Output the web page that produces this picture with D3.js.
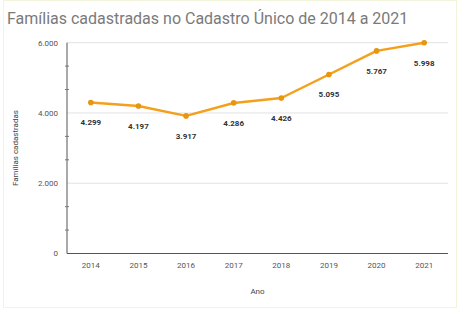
<!DOCTYPE html>
<html>
<head>
  <meta charset="utf-8">
  <style>
    body { margin: 0; background: #fff; font-family: Roboto, Arial, sans-serif; }
    svg text { font-family: Roboto, Arial, sans-serif; }
    .title { fill: #7a7a7a; font-size: 16px; }
    .tick-label { fill: #555; font-size: 8px; }
    .axis-title { fill: #444; font-size: 8px; }
    .value-label { fill: #333; font-size: 8px; font-weight: bold; }
    .grid { stroke: #e2e2e2; stroke-width: 1; }
  </style>
</head>
<body>
  <div id="chart"></div>
  <script src="https://cdn.jsdelivr.net/npm/d3@7"></script>
  <script>
    var anos = ["2014", "2015", "2016", "2017", "2018", "2019", "2020", "2021"];
    var familias = [4299, 4197, 3917, 4286, 4426, 5095, 5767, 5998];
    var yTicks = [0, 2000, 4000, 6000];

    var width = 460, height = 309;
    var plotLeft = 67, plotRight = 448, plotTop = 42.7, plotBottom = 253.5;

    var fmt = function (v) { return d3.format(",")(v).replace(/,/g, "."); };

    var svg = d3.select("#chart").append("svg")
      .attr("width", width)
      .attr("height", height);

    // moldura
    svg.append("rect")
      .attr("x", 3.5).attr("y", 0.5)
      .attr("width", 453).attr("height", 307)
      .attr("fill", "none")
      .attr("stroke", "#f1f5dc");

    var x = d3.scaleBand().domain(anos).range([plotLeft, plotRight]).padding(0);
    var y = d3.scaleLinear().domain([0, 6000]).range([plotBottom, plotTop]);

    svg.append("text")
      .attr("class", "title")
      .attr("x", 7).attr("y", 24)
      .text("Famílias cadastradas no Cadastro Único de 2014 a 2021");

    // grade
    svg.append("g").selectAll("line")
      .data(yTicks.filter(function (d) { return d > 0; }))
      .enter().append("line")
      .attr("class", "grid")
      .attr("x1", plotLeft).attr("x2", plotRight)
      .attr("y1", function (d) { return y(d); })
      .attr("y2", function (d) { return y(d); });

    // eixo y
    svg.append("line")
      .attr("x1", plotLeft).attr("x2", plotLeft)
      .attr("y1", plotTop).attr("y2", plotBottom)
      .attr("stroke", "#555").attr("stroke-width", 1);

    var minor = d3.range(0, 6001, 2000 / 3).filter(function (d) {
      return Math.round(d) % 2000 !== 0;
    });
    svg.append("g").selectAll("line")
      .data(minor)
      .enter().append("line")
      .attr("x1", plotLeft - 2).attr("x2", plotLeft + 2)
      .attr("y1", function (d) { return y(d); })
      .attr("y2", function (d) { return y(d); })
      .attr("stroke", "#777");

    svg.append("g").selectAll("text")
      .data(yTicks)
      .enter().append("text")
      .attr("class", "tick-label")
      .attr("x", plotLeft - 9)
      .attr("y", function (d) { return y(d); })
      .attr("dy", "0.35em")
      .attr("text-anchor", "end")
      .text(fmt);

    // eixo x
    svg.append("line")
      .attr("x1", plotLeft).attr("x2", plotRight)
      .attr("y1", plotBottom).attr("y2", plotBottom)
      .attr("stroke", "#555");

    svg.append("g").selectAll("text")
      .data(anos)
      .enter().append("text")
      .attr("class", "tick-label")
      .attr("x", function (d) { return x(d) + x.bandwidth() / 2; })
      .attr("y", plotBottom + 14)
      .attr("text-anchor", "middle")
      .text(function (d) { return d; });

    svg.append("text")
      .attr("class", "axis-title")
      .attr("x", (plotLeft + plotRight) / 2)
      .attr("y", 294)
      .attr("text-anchor", "middle")
      .text("Ano");

    svg.append("text")
      .attr("class", "axis-title")
      .attr("transform", "translate(18," + ((plotTop + plotBottom) / 2) + ") rotate(-90)")
      .attr("text-anchor", "middle")
      .text("Famílias cadastradas");

    // linha
    var cx = function (d, i) { return x(anos[i]) + x.bandwidth() / 2; };
    var line = d3.line()
      .x(cx)
      .y(function (d) { return y(d); });

    svg.append("path")
      .datum(familias)
      .attr("fill", "none")
      .attr("stroke", "#f4a01c")
      .attr("stroke-width", 2.5)
      .attr("stroke-linejoin", "round")
      .attr("d", line);

    svg.append("g").selectAll("circle")
      .data(familias)
      .enter().append("circle")
      .attr("cx", cx)
      .attr("cy", function (d) { return y(d); })
      .attr("r", 2.8)
      .attr("fill", "#e8950f");

    svg.append("g").selectAll("text")
      .data(familias)
      .enter().append("text")
      .attr("class", "value-label")
      .attr("x", cx)
      .attr("y", function (d) { return y(d) + 23; })
      .attr("text-anchor", "middle")
      .text(fmt);
  </script>
</body>
</html>
